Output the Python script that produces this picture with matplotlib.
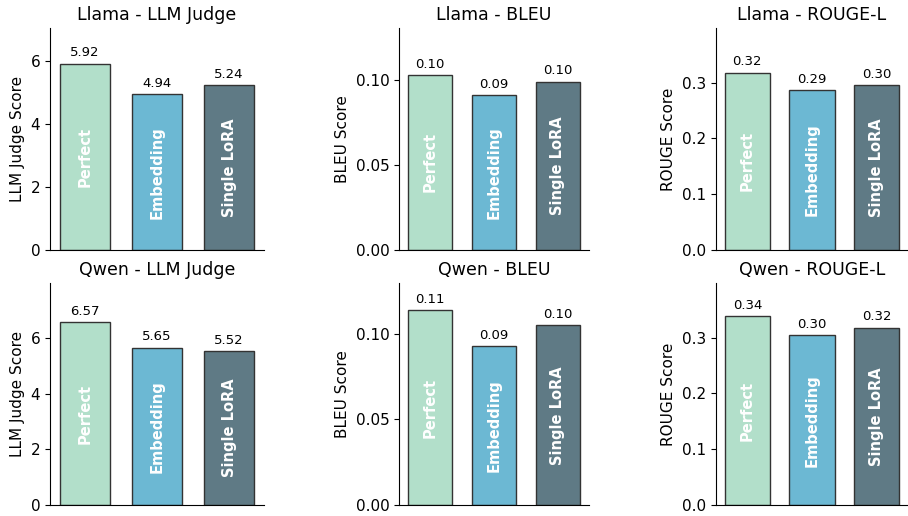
import matplotlib
matplotlib.use("Agg")
import matplotlib.pyplot as plt
from matplotlib.ticker import MultipleLocator
import numpy as np

methods = ["Perfect", "Embedding", "Single LoRA"]
colors = ["#b2dfca", "#6cb8d3", "#5f7a85"]

models = ["Llama", "Qwen"]
metrics = ["LLM Judge", "BLEU", "ROUGE-L"]
ylabels = ["LLM Judge Score", "BLEU Score", "ROUGE Score"]
tick_steps = [2, 0.05, 0.1]

llama_judge = [5.92, 4.94, 5.24]
llama_bleu = [0.103, 0.091, 0.099]
llama_rouge = [0.318, 0.287, 0.296]
qwen_judge = [6.57, 5.65, 5.52]
qwen_bleu = [0.114, 0.093, 0.105]
qwen_rouge = [0.338, 0.304, 0.318]

data = [[llama_judge, llama_bleu, llama_rouge],
        [qwen_judge, qwen_bleu, qwen_rouge]]
ylims = [[7.05, 0.1305, 0.398],
         [7.97, 0.1298, 0.398]]

fig = plt.figure(figsize=(9.08, 5.16), dpi=100)

# column positions (left, width) in figure fractions
col_pos = [(50 / 908, 214 / 908), (399 / 908, 190 / 908), (716 / 908, 192 / 908)]
row_pos = [(266 / 516, 222 / 516), (11 / 516, 222 / 516)]

x = np.arange(len(methods))
for r in range(2):
    for c in range(3):
        l, w = col_pos[c]
        b, h = row_pos[r]
        ax = fig.add_axes([l, b, w, h])
        vals = data[r][c]
        bars = ax.bar(x, vals, 0.7, color=colors, edgecolor="#333333", linewidth=1.0)
        ax.set_ylim(0, ylims[r][c])
        ax.yaxis.set_major_locator(MultipleLocator(tick_steps[c]))
        ax.set_title(f"{models[r]} - {metrics[c]}", fontsize=12.5)
        ax.set_ylabel(ylabels[c], fontsize=11)
        ax.set_xticks([])
        ax.tick_params(axis="y", labelsize=11)
        ax.spines["top"].set_visible(False)
        ax.spines["right"].set_visible(False)
        for bar, v, name in zip(bars, vals, methods):
            ax.annotate(f"{v:.2f}", (bar.get_x() + bar.get_width() / 2, v),
                        xytext=(0, 3), textcoords="offset points",
                        ha="center", va="bottom", fontsize=9.5)
            ax.text(bar.get_x() + bar.get_width() / 2, v / 2, name,
                    rotation=90, ha="center", va="center", color="white",
                    fontsize=10.5, fontweight="bold")

fig.savefig("out.png", dpi=100)
